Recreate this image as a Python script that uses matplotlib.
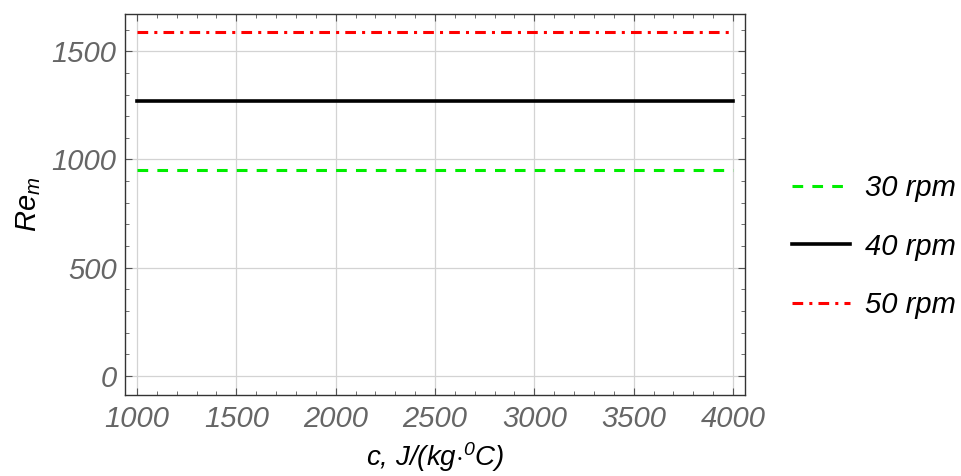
import matplotlib
matplotlib.use("Agg")
import matplotlib.pyplot as plt
from matplotlib.ticker import MultipleLocator

plt.rcParams['font.family'] = ['Liberation Sans', 'DejaVu Sans']
plt.rcParams['mathtext.fontset'] = 'custom'
plt.rcParams['mathtext.it'] = 'Liberation Sans:italic'
plt.rcParams['mathtext.rm'] = 'Liberation Sans:italic'

# data
c_values = [1000, 4000]
labels = ["30 rpm", "40 rpm", "50 rpm"]
re_30 = [950, 950]
re_40 = [1268, 1268]
re_50 = [1587, 1587]

fig = plt.figure(figsize=(9.62, 4.76), dpi=100)
ax = fig.add_axes([0.130, 0.170, 0.6444, 0.801])

ax.plot(c_values, re_30, color='#00ee00', lw=2.2, dashes=(3.5, 3), label=labels[0])
ax.plot(c_values, re_40, color='black', lw=2.6, label=labels[1])
ax.plot(c_values, re_50, color='#ff0000', lw=2.2, dashes=(3.5, 2, 1, 2), label=labels[2])

ax.set_xlim(940, 4060)
ax.set_ylim(-89, 1673)
ax.xaxis.set_major_locator(MultipleLocator(500))
ax.xaxis.set_minor_locator(MultipleLocator(100))
ax.yaxis.set_major_locator(MultipleLocator(500))
ax.yaxis.set_minor_locator(MultipleLocator(100))
ax.grid(True, which='major', color='#d3d3d3', lw=0.9)
ax.set_axisbelow(True)
ax.tick_params(which='both', direction='in', top=True, right=True, color='#555555')
ax.tick_params(which='major', length=5, width=0.8)
ax.tick_params(which='minor', length=3, width=0.6)
ax.tick_params(axis='y', pad=6)
ax.tick_params(axis='x', pad=7)
for lab in ax.get_xticklabels() + ax.get_yticklabels():
    lab.set_fontsize(21)
    lab.set_style('italic')
    lab.set_color('#666666')
for sp in ax.spines.values():
    sp.set_linewidth(1.0)
    sp.set_color('#333333')

ax.set_xlabel(r"c, J/(kg$\cdot$$^{0}$C)", fontsize=20, fontstyle='italic', labelpad=5)
ax.set_ylabel(r"$Re_m$", fontsize=21, labelpad=6)

fig.legend(loc='center left', bbox_to_anchor=(0.811, 0.482), frameon=False,
           prop={'style': 'italic', 'size': 21}, handlelength=2.0,
           handletextpad=0.5, labelspacing=1.05, borderaxespad=0)

fig.savefig("out.png", dpi=100)
